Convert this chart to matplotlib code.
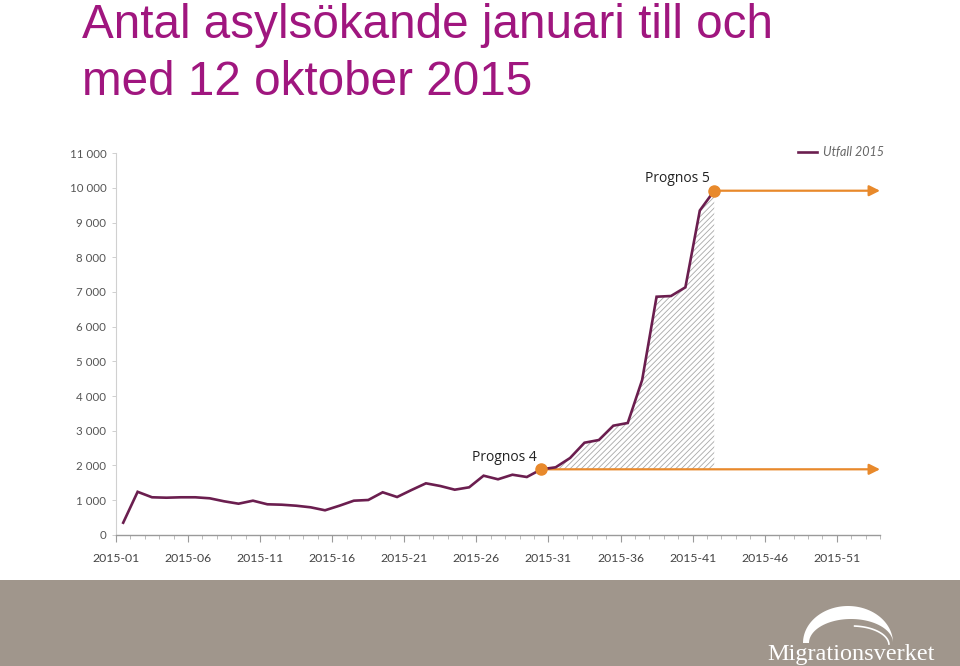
import matplotlib
matplotlib.use('Agg')
import matplotlib.pyplot as plt
import numpy as np
from matplotlib import font_manager as fm
from matplotlib.patches import Rectangle, Polygon
from matplotlib.ticker import FixedLocator

# ---------------- data ----------------
weeks = list(range(1, 43))
utfall = [346, 1237, 1079, 1067, 1079, 1079, 1050, 963, 894, 981,
          877, 865, 836, 790, 704, 836, 981, 1001, 1223, 1087,
          1289, 1482, 1404, 1298, 1367, 1702, 1598, 1730, 1664, 1886,
          1944, 2212, 2653, 2731, 3144, 3222, 4462, 6864, 6884, 7135,
          9350, 9921]
prognos_weeks = [30, 42]
prognos_values = [1886, 9921]
prognos_labels = ['Prognos 4', 'Prognos 5']
n_weeks = 53
xtick_weeks = list(range(1, 52, 5))
xtick_labels = ['2015-%02d' % w for w in xtick_weeks]
yticks = list(range(0, 11001, 1000))
ytick_labels = ['0'] + ['{:,}'.format(v).replace(',', ' ') for v in yticks[1:]]
series_label = 'Utfall 2015'
title = 'Antal asylsökande januari till och\nmed 12 oktober 2015'
logo_text = 'Migrationsverket'

# ---------------- style ----------------
names = {f.name for f in fm.fontManager.ttflist}
narrow = 'Liberation Sans Narrow' in names
title_font = 'Liberation Sans Narrow' if narrow else 'Liberation Sans'
title_size = 40 if narrow else 34.3
tick_font = 'Lato'
line_col = '#6B1E4F'
orange = '#E8892B'
title_col = '#A0167F'
band_col = '#A0968C'
plt.rcParams['hatch.linewidth'] = 0.6

W, H = 960, 666
fig = plt.figure(figsize=(W / 100, H / 100), dpi=100)
fig.patch.set_facecolor('white')

def fx(px):
    return px / W

def fy(py):
    return 1 - py / H

ax_left, ax_right, ax_top, ax_bot = 116, 880, 153.3, 534.7
ax = fig.add_axes([fx(ax_left), fy(ax_bot), fx(ax_right - ax_left), (ax_bot - ax_top) / H])
ax.set_xlim(0.5, n_weeks + 0.5)
ax.set_ylim(0, 11000)

# hatched area between Prognos 4 and outcome
i0 = weeks.index(prognos_weeks[0])
ax.fill_between(weeks[i0:], prognos_values[0], utfall[i0:], facecolor='white',
                edgecolor='#a8a8a8', hatch='//////', linewidth=0, zorder=1)

ax.plot(weeks, utfall, color=line_col, lw=1.9, zorder=3, label=series_label,
        solid_joinstyle='miter')

for w, v, lab in zip(prognos_weeks, prognos_values, prognos_labels):
    ax.annotate('', xy=(n_weeks + 0.5, v), xytext=(w, v),
                arrowprops=dict(arrowstyle='-|>', color=orange, lw=1.6,
                                mutation_scale=16, shrinkA=0, shrinkB=0),
                annotation_clip=False, zorder=2)
    ax.annotate(lab, xy=(w, v), xytext=(-37, 12), textcoords='offset pixels',
                ha='center', va='center', fontsize=10, family='Open Sans',
                color='#222222', zorder=4)
ax.plot(prognos_weeks, prognos_values, 'o', ms=8, color=orange, zorder=5)

# axes styling
for s in ['top', 'right']:
    ax.spines[s].set_visible(False)
ax.spines['bottom'].set_color('#9a9a9a')
ax.spines['bottom'].set_linewidth(1.0)
ax.spines['left'].set_color('#d0d0d0')
ax.spines['left'].set_linewidth(0.8)

ax.xaxis.set_major_locator(FixedLocator([w - 0.5 for w in xtick_weeks]))
ax.set_xticklabels(xtick_labels)
ax.xaxis.set_minor_locator(FixedLocator([k + 0.5 for k in range(n_weeks + 1)]))
ax.tick_params(axis='x', which='major', length=5, width=0.8, color='#9a9a9a',
               pad=8.5, labelsize=8.8, labelcolor='#444444')
ax.tick_params(axis='x', which='minor', length=3, width=0.6, color='#b0b0b0')
ax.set_yticks(yticks)
ax.set_yticklabels(ytick_labels)
ax.tick_params(axis='y', which='major', length=3, width=0.6, color='#c8c8c8',
               pad=4, labelsize=8.3, labelcolor='#555555')
for lab in ax.get_xticklabels() + ax.get_yticklabels():
    lab.set_family(tick_font)

leg = ax.legend(loc='center right', bbox_to_anchor=(fx(884), fy(152)),
                bbox_transform=fig.transFigure, frameon=False, handlelength=1.5,
                handletextpad=0.5, borderpad=0, borderaxespad=0,
                prop=dict(family=tick_font, style='italic', size=9))
for t in leg.get_texts():
    t.set_color('#666666')

# title
fig.text(fx(82), fy(38), title.split('\n')[0], family=title_font, size=title_size,
         color=title_col, ha='left', va='baseline')
fig.text(fx(82), fy(95), title.split('\n')[1], family=title_font, size=title_size,
         color=title_col, ha='left', va='baseline')

# bottom band with logo
deco = fig.add_axes([0, 0, 1, 1], zorder=-1)
deco.set_xlim(0, W)
deco.set_ylim(H, 0)
deco.axis('off')
deco.add_patch(Rectangle((0, 580), W, H - 580, color=band_col, lw=0))
t = np.linspace(0, np.pi, 80)
outer = np.column_stack([848 + 45 * np.cos(t), 643 - 37 * np.sin(t)])
inner = np.column_stack([851 + 42 * np.cos(t[::-1]), 643 - 24 * np.sin(t[::-1])])
deco.add_patch(Polygon(np.vstack([outer, inner]), closed=True, color='white', lw=0))
t2 = np.linspace(0.05, 1.5, 40)
deco.plot(852 + 37 * np.cos(t2), 645 - 19 * np.sin(t2), color='white', lw=1.2)
deco.text(767, 660, logo_text, family='Liberation Serif', size=17.5, color='white',
          ha='left', va='baseline')

fig.savefig('out.png', dpi=100)
